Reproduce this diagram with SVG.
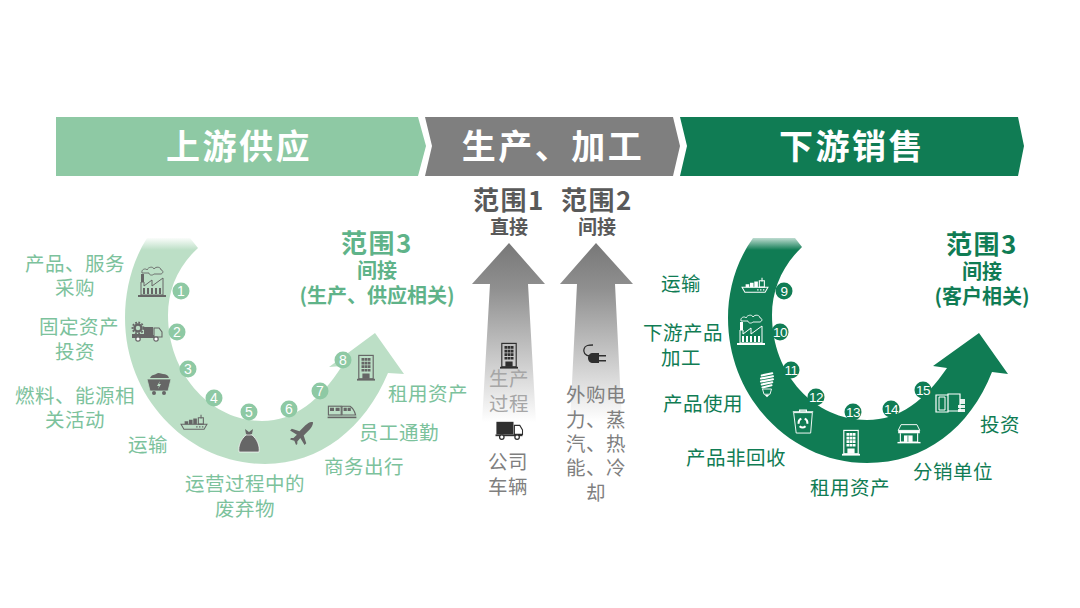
<svg xmlns="http://www.w3.org/2000/svg" width="1080" height="608" viewBox="0 0 1080 608">
<style>
text{font-family:"Noto Sans CJK SC","Noto Sans",sans-serif;text-anchor:middle}
.lg{fill:#7cc29c;font-size:19.5px;letter-spacing:.5px}
.dg{fill:#107c54;font-size:19.5px;letter-spacing:.5px}
.lh{fill:#5fb389;font-size:26px;font-weight:700;letter-spacing:1.5px}
.ls{fill:#5fb389;font-size:20px;font-weight:700}
.dh{fill:#107c54;font-size:26px;font-weight:700;letter-spacing:1.5px}
.ds{fill:#107c54;font-size:20px;font-weight:700}
.gh{fill:#595959;font-size:26px;font-weight:700;letter-spacing:1.5px}
.gs{fill:#595959;font-size:19px;font-weight:700}
.gt{fill:#7f7f7f;font-size:19.5px;letter-spacing:.5px}
.gl{fill:#a6a6a6;font-size:19.5px;letter-spacing:.5px}
.ban{fill:#fff;font-size:34px;font-weight:700;letter-spacing:2.500px}
.cl{fill:#8ec9a4}
.cd{fill:#107c54}
.nl{fill:#fff;font-size:14px;font-family:"Liberation Sans",sans-serif}
.nd{fill:#fff;font-size:13.5px;letter-spacing:-.4px;font-family:"Liberation Sans",sans-serif}
.ig{color:#666}
.iw{color:#fff}
.ik{color:#2f2f2f}
</style>
<defs>
<linearGradient id="fl" x1="0" y1="237" x2="0" y2="250" gradientUnits="userSpaceOnUse"><stop offset="0" stop-color="#bcdfc6" stop-opacity="0"/><stop offset="1" stop-color="#bcdfc6"/></linearGradient>
<linearGradient id="fd" x1="0" y1="236" x2="0" y2="250" gradientUnits="userSpaceOnUse"><stop offset="0" stop-color="#107c54" stop-opacity=".15"/><stop offset="1" stop-color="#107c54"/></linearGradient>
<linearGradient id="ga" x1="0" y1="243" x2="0" y2="422" gradientUnits="userSpaceOnUse"><stop offset="0" stop-color="#787878"/><stop offset=".25" stop-color="#8f8f8f"/><stop offset=".65" stop-color="#cacaca"/><stop offset="1" stop-color="#fff"/></linearGradient>
<g id="factory"><path d="M-14,12h28v2h-28z" fill="currentColor"/><path d="M-11,12V-1h3V3L0,-3V3L11,-5V12Z" fill="none" stroke="currentColor" stroke-width="1"/><path d="M-11,-9h3v8h-3z" fill="currentColor"/><path d="M-9,5h2v6h-2zM-5,5h2v6h-2zM-1,5h2v6h-2zM3,5h2v6h-2zM7,5h2v6h-2z" fill="currentColor"/><path d="M-10,-10c-1,-4 4,-5 5,-3c1,-3 6,-4 7,-1c2,-3 7,-2 7,1c2,0 3,3 0,4h-7c-2,2 -5,1 -5,-1z" fill="none" stroke="currentColor" stroke-width=".9"/></g>
<g id="ship"><path d="M-18,3H18L14,10H-14Z" fill="none" stroke="currentColor" stroke-width="1.400"/><path d="M-13,-1h5v4h-5zM-7,-3h5v6h-5zM-1,-5h5v8h-5z" fill="currentColor"/><path d="M6,-6h7v9h-7z" fill="none" stroke="currentColor" stroke-width="1.500"/><path d="M9,-10h1.500v5h-1.500z" fill="currentColor"/><path d="M3,6h2v1.500h-2zM7,6h2v1.500h-2zM11,6h2v1.500h-2z" fill="currentColor"/></g>
<g id="building"><rect x="-8" y="-14" width="16" height="26" fill="none" stroke="currentColor" stroke-width="1.300"/><path d="M-5,-11h3v3h-3zM-1.500,-11h3v3h-3zM2,-11h3v3h-3zM-5,-7h3v3h-3zM-1.500,-7h3v3h-3zM2,-7h3v3h-3zM-5,-3h3v3h-3zM-1.500,-3h3v3h-3zM2,-3h3v3h-3zM-5,1h3v3h-3zM-1.500,1h3v3h-3zM2,1h3v3h-3zM-4,6h8v6h-8z" fill="currentColor"/><path d="M-10,12h20v2h-20z" fill="currentColor"/></g>
<g id="truck"><path d="M-14,-8H5V6H-14Z" fill="currentColor"/><path d="M6,-4h6l3,5v5H6Z" fill="none" stroke="currentColor" stroke-width="1.200"/><path d="M-15,6H15V8H-15Z" fill="currentColor"/><circle cx="-8" cy="9" r="2.500" fill="#fff" stroke="currentColor" stroke-width="1.400"/><circle cx="9" cy="9" r="2.500" fill="#fff" stroke="currentColor" stroke-width="1.400"/></g>
<g id="gtruck"><circle cx="-9" cy="-4" r="3.500" fill="none" stroke="currentColor" stroke-width="2.500"/><circle cx="-9" cy="-4" r="5.500" fill="none" stroke="currentColor" stroke-width="1.800" stroke-dasharray="1.800 1.400"/><path d="M-3,-5H6V3H-15V2H-3Z" fill="currentColor"/><path d="M7,-4h5l3,4v5H7Z" fill="none" stroke="currentColor" stroke-width="1.100"/><path d="M-15,3H7V6H-15Z" fill="currentColor"/><circle cx="-9" cy="7" r="2.200" fill="#fff" stroke="currentColor" stroke-width="1.200"/><circle cx="9" cy="7" r="2.200" fill="#fff" stroke="currentColor" stroke-width="1.200"/></g>
<g id="cart"><path d="M-9,-6c2,-4 5,-3 6,-4c3,-2 5,0 7,0c3,0 5,1 6,4z" fill="currentColor"/><path d="M-12,-5H12L9,7H-9Z" fill="currentColor" stroke="#bcdfc6" stroke-width=".8"/><circle cx="-5" cy="9" r="2" fill="currentColor"/><circle cx="5" cy="9" r="2" fill="currentColor"/><path d="M1,-3l-3,5h2l-1,3l3,-5h-2z" fill="#bcdfc6"/></g>
<g id="bag"><path d="M-4,-12l4,3l4,-3l-1,5l-2,1h-3l-1,-1z" fill="currentColor"/><path d="M-3,-6C-8,-2 -11,5 -10,11H10C11,5 8,-2 3,-6Z" fill="currentColor" stroke="#fff" stroke-width=".7"/></g>
<g id="plane"><path d="M11,-13C9,-13 6,-11 4,-9L-3,-2L-12,-5L-14,-3L-6,2L-10,6H-13L-14,7.500L-9,9L-7,14L-5.500,13V10L-2,6L3,14L5,12L2,3L9,-4C11,-6 13,-10 13,-12C13,-13 12,-13 11,-13Z" fill="currentColor"/></g>
<g id="train"><rect x="-17" y="-6" width="16" height="11" fill="none" stroke="currentColor" stroke-width="1.400"/><path d="M0,-6H10Q15,-3 17,5H0Z" fill="none" stroke="currentColor" stroke-width="1.400"/><path d="M-15,-4h5v4h-5zM-8,-4h5v4h-5zM2,-4h4v4h-4zM7,-4h4v4h-4z" fill="currentColor"/><path d="M-18,7H18V9H-18Z" fill="currentColor"/></g>
<g id="plug"><path d="M3,-1H-3C-8,-1 -10,-5 -9,-8C-8,-12 -4,-12 0,-12" fill="none" stroke="currentColor" stroke-width="1.300" transform="translate(-2,0)"/><path d="M-4,-4c-3,0 -5,2 -5,5s2,5 5,5h6V-4Z" fill="currentColor" transform="translate(2,0)"/><path d="M4,-2h7v1.500H4ZM4,3h7v1.500H4Z" fill="currentColor"/></g>
<g id="bulb"><path d="M-7,-14L7,-17M-8,-10L8,-13M-8,-6L8,-9M-7,-2L7,-5M-6,2L6,-1" stroke="currentColor" stroke-width="2.800" fill="none" stroke-linecap="round"/><path d="M-6,4H6L4,11H-4Z" fill="none" stroke="currentColor" stroke-width="1.200"/><path d="M-3,12h6l-3,3z" fill="currentColor"/></g>
<g id="bin"><path d="M-11,-11H11L9,13H-8Z" fill="none" stroke="currentColor" stroke-width="1.100"/><path d="M-12,-12H12M-4,-12V-14H4V-12" fill="none" stroke="currentColor" stroke-width="1.400"/><path d="M-5,2a5.500,5.500 0 0 1 3,-6M2,-4a5.500,5.500 0 0 1 3,6M3,5a5.500,5.500 0 0 1 -7,0" fill="none" stroke="currentColor" stroke-width="2.500"/></g>
<g id="shop"><path d="M-15,-5L-11,-13H11L15,-5Z" fill="none" stroke="currentColor" stroke-width="1.300"/><path d="M-15,-5H15V-1H-15Z" fill="currentColor"/><path d="M-12,-1V11H12V-1" fill="none" stroke="currentColor" stroke-width="1.500"/><path d="M-7,2H5V11H-7Z" fill="currentColor"/><path d="M-1.500,2v9" stroke="#107c54" stroke-width="1"/><path d="M-16,11H16V13H-16Z" fill="currentColor"/></g>
<g id="cash"><path d="M-14,-8H-2V9H-14ZM-2,-9H10V8H-2Z" fill="none" stroke="currentColor" stroke-width="1.200"/><path d="M-11,-6h6v13h-6z" fill="none" stroke="currentColor" stroke-width="1"/><path d="M10,-4h5v5h-5zM8,2h7v3h-7zM8,6h7v3h-7z" fill="currentColor" opacity=".9"/></g>
</defs>

<g id="banner-upstream"><path d="M56,117H418L426,146L418,176H56Z" fill="#8ec9a4"/><text class="ban" x="239" y="159">上游供应</text></g>
<g id="banner-production"><path d="M425,117H673L680,146L673,176H425L432,146Z" fill="#7f7f7f"/><text class="ban" x="553" y="159">生产、加工</text></g>
<g id="banner-downstream"><path d="M680,117H1018L1024,146L1018,176H680L687,146Z" fill="#107c54"/><text class="ban" x="852" y="159">下游销售</text></g>

<g id="connectors">
<path id="arc-left" d="M147,238C132,262 125,290 125,318C125,400 190,464 265,464C320,464 365,428 388,373L404,374L375,333L329,367L342,366C320,400 295,421 262,421C212,421 168,375 168,315C168,290 178,266 198,248L190,238Z" fill="url(#fl)"/>
<path id="arc-right" d="M753,238C736,262 728,290 728,318C728,400 793,463 867,463C925,463 970,428 992,372L1008,374L979,333L933,366L947,368C925,400 900,420 867,420C815,420 772,375 772,315C772,290 782,266 802,247L795,238Z" fill="url(#fd)"/>
<path id="arrow-scope1" d="M509,243L545,284H528L536,422H482L490,284H472Z" fill="url(#ga)"/>
<path id="arrow-scope2" d="M596,243L633,284H615L622,422H570L577,284H560Z" fill="url(#ga)"/>
</g>

<g id="scope1"><text class="gh" x="509" y="210">范围1</text><text class="gs" x="509" y="234">直接</text>
<use href="#building" transform="translate(509 356) scale(.9)" class="ik"/><text class="gl" x="509" y="386">生产</text><text class="gl" x="509" y="411">过程</text>
<use href="#truck" transform="translate(509 429) scale(.9)" class="ik"/><text class="gt" x="508" y="469">公司</text><text class="gt" x="508" y="494">车辆</text></g>
<g id="scope2"><text class="gh" x="597" y="210">范围2</text><text class="gs" x="597" y="234">间接</text>
<use href="#plug" transform="translate(595 357)" class="ik"/>
<text class="gt" x="596" y="402">外购电</text><text class="gt" x="596" y="427">力、蒸</text><text class="gt" x="596" y="451">汽、热</text><text class="gt" x="596" y="475">能、冷</text><text class="gt" x="596" y="500">却</text></g>

<g id="scope3-up"><text class="lh" x="377" y="253">范围3</text><text class="ls" x="377" y="278">间接</text><text class="ls" x="377" y="303">(生产、供应相关)</text></g>
<g id="n1"><text class="lg" x="75" y="271">产品、服务</text><text class="lg" x="75" y="295">采购</text><use href="#factory" x="152" y="283" class="ig"/><circle class="cl" cx="181" cy="291" r="8.500"/><text class="nl" x="181" y="296">1</text></g>
<g id="n2"><text class="lg" x="79" y="334">固定资产</text><text class="lg" x="75" y="359">投资</text><use href="#gtruck" x="147" y="332" class="ig"/><circle class="cl" cx="177" cy="332" r="8.500"/><text class="nl" x="177" y="337">2</text></g>
<g id="n3"><text class="lg" x="75" y="403">燃料、能源相</text><text class="lg" x="75" y="427">关活动</text><use href="#cart" x="159" y="384" class="ig"/><circle class="cl" cx="188" cy="369" r="8.500"/><text class="nl" x="188" y="374">3</text></g>
<g id="n4"><text class="lg" x="148" y="452">运输</text><use href="#ship" transform="translate(194 422) scale(.72)" class="ig"/><circle class="cl" cx="214" cy="398" r="8.500"/><text class="nl" x="214" y="403">4</text></g>
<g id="n5"><text class="lg" x="245" y="491">运营过程中的</text><text class="lg" x="245" y="516">废弃物</text><use href="#bag" x="249" y="441" class="ig"/><circle class="cl" cx="249" cy="412" r="8.500"/><text class="nl" x="249" y="417">5</text></g>
<g id="n6"><text class="lg" x="364" y="474">商务出行</text><use href="#plane" transform="translate(302 433) scale(.85)" class="ig"/><circle class="cl" cx="289" cy="409" r="8.500"/><text class="nl" x="289" y="414">6</text></g>
<g id="n7"><text class="lg" x="399" y="440">员工通勤</text><use href="#train" transform="translate(342 411) scale(.8)" class="ig"/><circle class="cl" cx="320" cy="391" r="8.500"/><text class="nl" x="320" y="396">7</text></g>
<g id="n8"><text class="lg" x="428" y="401">租用资产</text><use href="#building" transform="translate(366 368) scale(.9)" class="ig"/><circle class="cl" cx="343" cy="360" r="8.500"/><text class="nl" x="343" y="365">8</text></g>

<g id="scope3-down"><text class="dh" x="982" y="254">范围3</text><text class="ds" x="982" y="279">间接</text><text class="ds" x="982" y="304">(客户相关)</text></g>
<g id="n9"><text class="dg" x="681" y="291">运输</text><use href="#ship" transform="translate(755 285) scale(.72)" class="iw"/><circle class="cd" cx="784" cy="291" r="8.500"/><text class="nd" x="784" y="296">9</text></g>
<g id="n10"><text class="dg" x="683" y="340">下游产品</text><text class="dg" x="681" y="365">加工</text><use href="#factory" x="751" y="331" class="iw"/><circle class="cd" cx="780" cy="332" r="8.500"/><text class="nd" x="780" y="337">10</text></g>
<g id="n11"><text class="dg" x="703" y="411">产品使用</text><use href="#bulb" transform="translate(767 386) scale(.75)" class="iw"/><circle class="cd" cx="791" cy="370" r="8.500"/><text class="nd" x="791" y="375">11</text></g>
<g id="n12"><text class="dg" x="736" y="465">产品非回收</text><use href="#bin" transform="translate(803 422) scale(.85)" class="iw"/><circle class="cd" cx="816" cy="397" r="8.500"/><text class="nd" x="816" y="402">12</text></g>
<g id="n13"><text class="dg" x="850" y="495">租用资产</text><use href="#building" transform="translate(851 443) scale(.9)" class="iw"/><circle class="cd" cx="853" cy="412" r="8.500"/><text class="nd" x="853" y="417">13</text></g>
<g id="n14"><text class="dg" x="953" y="479">分销单位</text><use href="#shop" transform="translate(909 434) scale(.72)" class="iw"/><circle class="cd" cx="891" cy="409" r="8.500"/><text class="nd" x="891" y="414">14</text></g>
<g id="n15"><text class="dg" x="1000" y="432">投资</text><use href="#cash" x="950" y="403" class="iw"/><circle class="cd" cx="923" cy="390" r="8.500"/><text class="nd" x="923" y="395">15</text></g>
</svg>
